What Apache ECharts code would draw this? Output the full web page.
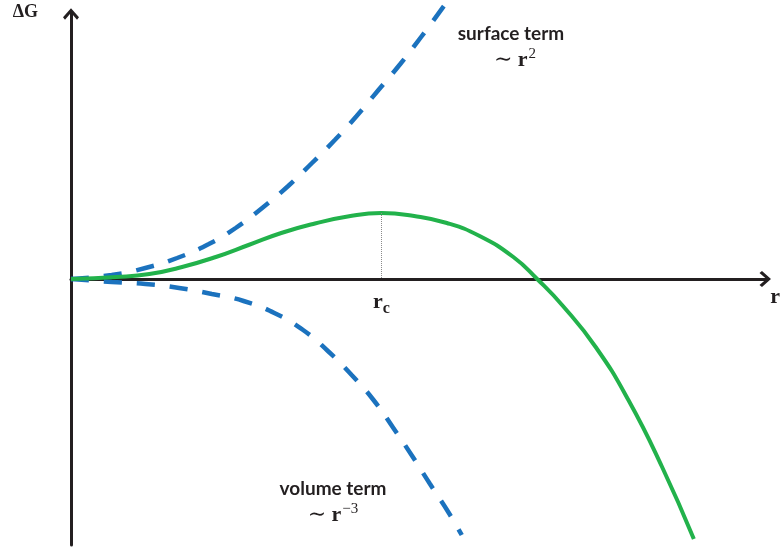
<!DOCTYPE html>
<html>
<head>
<meta charset="utf-8">
<script src="https://cdn.jsdelivr.net/npm/echarts@6/dist/echarts.min.js"></script>
<style>
  html, body { margin: 0; padding: 0; background: #ffffff; }
  #chart { width: 783px; height: 550px; }
</style>
</head>
<body>
<div id="chart"></div>
<script>
// Nucleation free energy: surface term, volume term and their sum vs. radius r
const surfaceR = [0, 0.41, 0.75, 1.07, 1.39, 1.66, 1.94, 2.19, 2.43, 2.66, 2.88, 3.10, 3.32, 3.53, 3.76];
const surfaceG = [0, 0.04, 0.11, 0.21, 0.35, 0.51, 0.72, 0.93, 1.16, 1.39, 1.63, 1.89, 2.15, 2.42, 2.73];

const volumeR = [0, 0.41, 0.75, 1.09, 1.42, 1.74, 2.05, 2.34, 2.59, 2.83, 3.05, 3.25, 3.44, 3.62, 3.81, 3.94];
const volumeG = [0, -0.03, -0.05, -0.09, -0.15, -0.22, -0.34, -0.51, -0.72, -0.96, -1.21, -1.49, -1.77, -2.05, -2.34, -2.56];

const totalR = [0, 0.46, 0.79, 1.12, 1.46, 1.79, 2.12, 2.46, 2.79, 3.13, 3.46, 3.79, 4.12, 4.46, 4.70, 4.96, 5.29, 5.62, 5.96, 6.28];
const totalG = [0, 0.02, 0.05, 0.12, 0.22, 0.34, 0.46, 0.555, 0.625, 0.66, 0.63, 0.56, 0.43, 0.22, 0, -0.27, -0.68, -1.21, -1.88, -2.60];

// critical radius and barrier height
const rCritical = 3.13;
const gBarrier = 0.66;

const axisNameY = 'ΔG';
const axisNameX = 'r';
const surfaceLabel = ['surface term', '∼ ', 'r', '2'];
const volumeLabel = ['volume term', '∼ ', 'r', '−3'];
const criticalLabel = ['r', 'c'];

const INK = '#231f20';
const BLUE = '#1b72be';
const GREEN = '#22b24b';
const SERIF = '"Liberation Serif", "DejaVu Serif", serif';
const SANS = 'Lato, "Open Sans", sans-serif';

// open chevron arrow head, pointing up
const chevron = 'path://M8 0 L16 9 L14 11.5 L8 4.5 L2 11.5 L0 9 Z';

const pairs = (xs, ys) => xs.map((x, i) => [x, ys[i]]);

const chart = echarts.init(document.getElementById('chart'), null, { renderer: 'canvas' });

const axisCommon = {
  type: 'value',
  splitLine: { show: false },
  axisTick: { show: false },
  axisLabel: { show: false },
  axisLine: {
    show: true,
    lineStyle: { color: INK, width: 3 },
    symbol: ['none', chevron],
    symbolSize: [16, 12],
    symbolOffset: [0, -2]
  }
};

const powerRich = {
  t: { fontFamily: SERIF, fontSize: 22, fill: INK, lineHeight: 24, verticalAlign: 'bottom' },
  r: { fontFamily: SERIF, fontWeight: 'bold', fontSize: 22, fill: INK, lineHeight: 24, verticalAlign: 'bottom' },
  s: { fontFamily: SERIF, fontSize: 15, fill: INK, lineHeight: 16, verticalAlign: 'top', padding: [0, 0, 0, 1] }
};

chart.setOption({
  animation: false,
  backgroundColor: '#ffffff',
  grid: { left: 71, right: 10, top: 12, bottom: 5 },
  xAxis: Object.assign({}, axisCommon, {
    min: 0,
    max: 7.02,
    name: axisNameX,
    nameLocation: 'end',
    nameGap: 3,
    nameTextStyle: {
      fontFamily: SERIF, fontWeight: 'bold', fontSize: 22, color: INK,
      align: 'left', verticalAlign: 'top', padding: [7, 0, 0, 0]
    },
    axisLine: Object.assign({}, axisCommon.axisLine, { onZero: true })
  }),
  yAxis: Object.assign({}, axisCommon, {
    min: -2.66,
    max: 2.67,
    name: axisNameY,
    nameLocation: 'end',
    nameGap: 0,
    nameTextStyle: {
      fontFamily: SERIF, fontWeight: 'bold', fontSize: 18, color: INK,
      align: 'right', verticalAlign: 'middle', padding: [0, 33, 0, 0]
    }
  }),
  series: [
    {
      name: 'surface term',
      type: 'line',
      data: pairs(surfaceR, surfaceG),
      smooth: true,
      showSymbol: false,
      clip: false,
      lineStyle: { color: BLUE, width: 4.5, type: [18, 15] },
      z: 2
    },
    {
      name: 'volume term',
      type: 'line',
      data: pairs(volumeR, volumeG),
      smooth: true,
      showSymbol: false,
      clip: false,
      lineStyle: { color: BLUE, width: 4.5, type: [18, 15] },
      z: 2
    },
    {
      name: 'ΔG',
      type: 'line',
      data: pairs(totalR, totalG),
      smooth: true,
      showSymbol: false,
      clip: false,
      lineStyle: { color: GREEN, width: 4 },
      z: 3,
      markLine: {
        silent: true,
        symbol: ['none', 'none'],
        lineStyle: { color: '#8a8a8a', width: 1, type: [1, 1] },
        label: {
          show: true,
          position: 'end',
          distance: 12,
          formatter: '{r|' + criticalLabel[0] + '}{c|' + criticalLabel[1] + '}',
          rich: {
            r: { fontFamily: SERIF, fontWeight: 'bold', fontSize: 22, color: INK, lineHeight: 22, verticalAlign: 'top' },
            c: { fontFamily: SERIF, fontWeight: 'bold', fontSize: 16, color: INK, lineHeight: 26, verticalAlign: 'bottom' }
          }
        },
        data: [[{ coord: [rCritical, gBarrier] }, { coord: [rCritical, 0] }]]
      }
    }
  ],
  graphic: [
    {
      type: 'text', x: 511, y: 34, silent: true,
      style: { text: surfaceLabel[0], font: 'bold 19px ' + SANS, fill: INK, align: 'center', verticalAlign: 'middle' }
    },
    {
      type: 'text', x: 515, y: 59, silent: true,
      style: {
        text: '{t|' + surfaceLabel[1] + '}{r|' + surfaceLabel[2] + '}{s|' + surfaceLabel[3] + '}',
        align: 'center', verticalAlign: 'middle',
        rich: powerRich
      }
    },
    {
      type: 'text', x: 333, y: 489, silent: true,
      style: { text: volumeLabel[0], font: 'bold 19px ' + SANS, fill: INK, align: 'center', verticalAlign: 'middle' }
    },
    {
      type: 'text', x: 333, y: 514, silent: true,
      style: {
        text: '{t|' + volumeLabel[1] + '}{r|' + volumeLabel[2] + '}{s|' + volumeLabel[3] + '}',
        align: 'center', verticalAlign: 'middle',
        rich: powerRich
      }
    }
  ]
});
</script>
</body>
</html>
